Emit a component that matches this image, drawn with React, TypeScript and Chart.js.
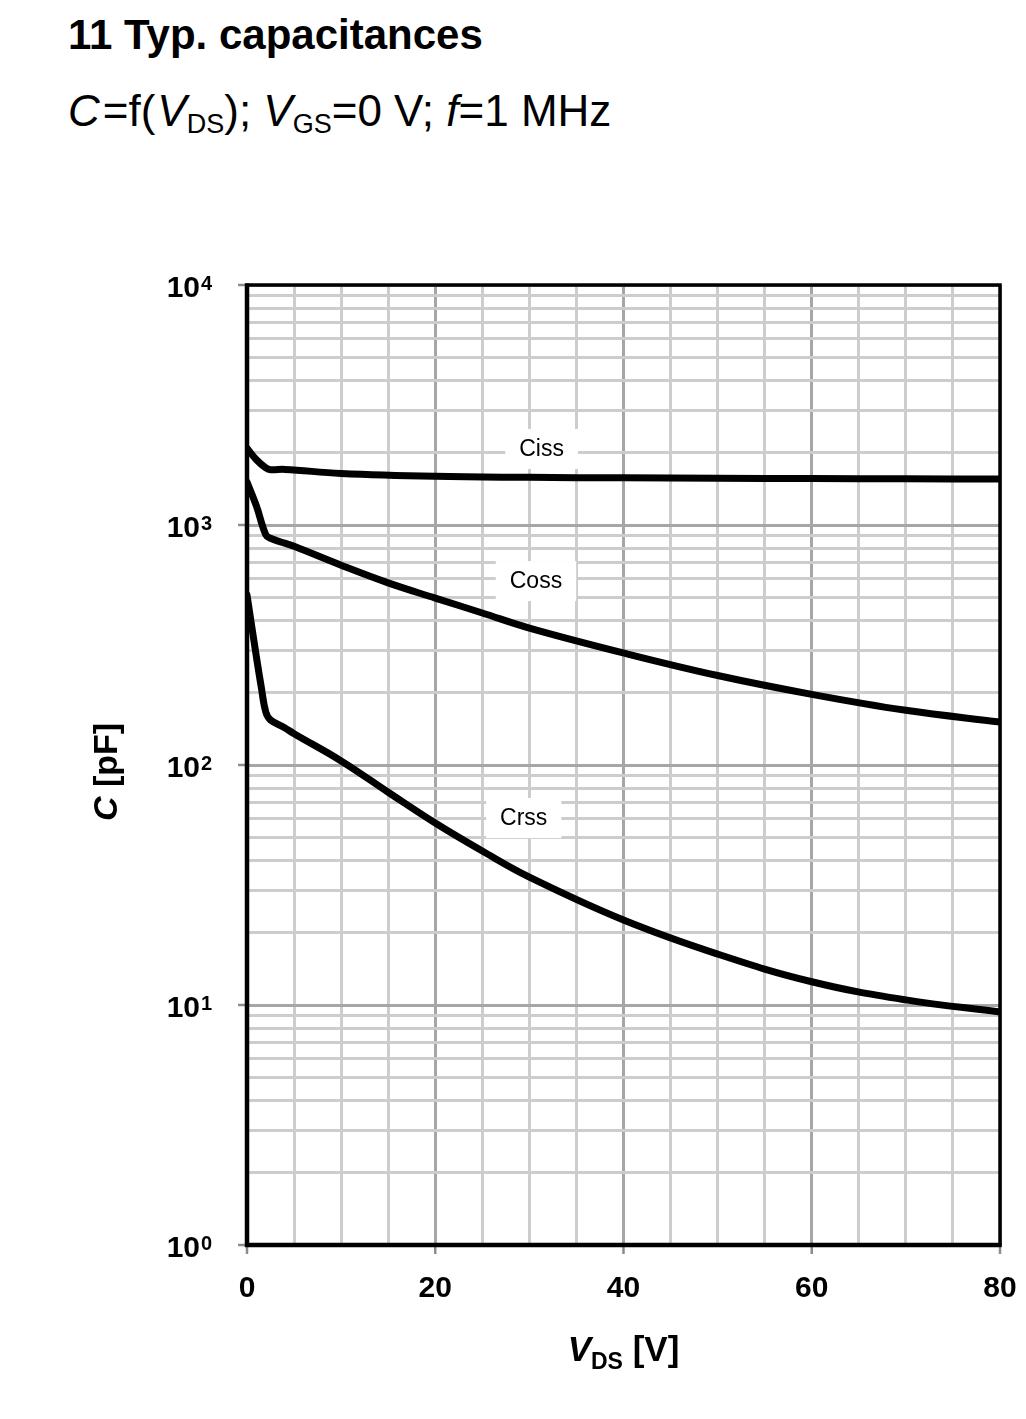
import React, { useEffect, useRef } from "react";
import { Chart, registerables } from "chart.js";

Chart.register(...registerables);

// ---- data ----
const cissV = [0, 1, 2, 2.5, 4, 10, 20, 30, 40, 50, 60, 70, 80];
const cissC = [2090, 1870, 1730, 1700, 1705, 1640, 1595, 1580, 1572, 1566, 1562, 1558, 1555];

const cossV = [0, 1, 2, 2.5, 4, 5, 10, 15, 20, 25, 30, 40, 50, 60, 70, 80];
const cossC = [1510, 1200, 910, 880, 840, 815, 680, 574, 496, 430, 372, 293, 236, 197, 169, 151];

const crssV = [0, 1, 1.5, 2, 2.5, 4, 5, 10, 15, 20, 25, 30, 40, 50, 60, 70, 80];
const crssC = [511, 282, 213, 166, 154, 143, 135, 104, 77, 57.3, 43.8, 34.1, 22.6, 16.3, 12.5, 10.5, 9.35];

const xTickLabels = [0, 20, 40, 60, 80];
const yDecades = [1, 10, 100, 1000, 10000];
const yExponents = ["0", "1", "2", "3", "4"];

const curveNames = ["Ciss", "Coss", "Crss"];
const curveLabelV = [31.3, 30.7, 29.4];
const curveLabelC = [2074, 584, 60.1];

const FONT = "'Liberation Sans', Arial, Helvetica, sans-serif";

function buildYGrid(): number[] {
  const out: number[] = [];
  for (let d = 0; d < yDecades.length - 1; d++) {
    for (let m = 1; m <= 9; m++) out.push(yDecades[d] * m);
  }
  out.push(yDecades[yDecades.length - 1]);
  return out;
}

const decorPlugin = {
  id: "decor",
  beforeDatasetsDraw(chart: any) {
    const { ctx, chartArea } = chart;
    const { left, right, top, bottom } = chartArea;
    const xs = chart.scales.x;
    const ys = chart.scales.y;
    ctx.save();
    // tick marks
    ctx.strokeStyle = "#8c8c8c";
    ctx.lineWidth = 2.5;
    xTickLabels.forEach((v) => {
      const px = xs.getPixelForValue(v);
      ctx.beginPath();
      ctx.moveTo(px, bottom);
      ctx.lineTo(px, bottom + 9);
      ctx.stroke();
    });
    yDecades.forEach((v) => {
      const py = ys.getPixelForValue(v);
      ctx.beginPath();
      ctx.moveTo(left - 9, py);
      ctx.lineTo(left, py);
      ctx.stroke();
    });
    // frame
    ctx.strokeStyle = "#000";
    ctx.lineWidth = 3.5;
    ctx.strokeRect(left, top, right - left, bottom - top);
    ctx.lineWidth = 4.5;
    ctx.beginPath();
    ctx.moveTo(left, top - 1.5);
    ctx.lineTo(left, bottom + 2);
    ctx.stroke();
    ctx.beginPath();
    ctx.moveTo(left - 2, bottom);
    ctx.lineTo(right + 1.5, bottom);
    ctx.stroke();

    // tick labels
    ctx.fillStyle = "#000";
    ctx.textBaseline = "alphabetic";
    ctx.font = `bold 30px ${FONT}`;
    ctx.textAlign = "center";
    xTickLabels.forEach((v) => {
      ctx.fillText(String(v), xs.getPixelForValue(v), 1297);
    });
    yDecades.forEach((v, i) => {
      const py = ys.getPixelForValue(v);
      ctx.font = `bold 30px ${FONT}`;
      ctx.textAlign = "right";
      ctx.fillText("10", 200, py + 12);
      ctx.font = `bold 20px ${FONT}`;
      ctx.textAlign = "left";
      ctx.fillText(yExponents[i], 201, py + 5);
    });

    // axis titles
    ctx.textAlign = "left";
    const cx = (left + right) / 2;
    ctx.font = `italic bold 35px ${FONT}`;
    const wV = ctx.measureText("V").width;
    ctx.font = `bold 23px ${FONT}`;
    const wDS = ctx.measureText("DS").width;
    ctx.font = `bold 35px ${FONT}`;
    const wRest = ctx.measureText(" [V]").width;
    let x0 = cx - (wV + wDS + wRest) / 2;
    ctx.font = `italic bold 35px ${FONT}`;
    ctx.fillText("V", x0, 1361);
    x0 += wV;
    ctx.font = `bold 23px ${FONT}`;
    ctx.fillText("DS", x0, 1369);
    x0 += wDS;
    ctx.font = `bold 35px ${FONT}`;
    ctx.fillText(" [V]", x0, 1361);

    ctx.save();
    ctx.translate(117, 772);
    ctx.rotate(-Math.PI / 2);
    ctx.font = `italic bold 34px ${FONT}`;
    const wC = ctx.measureText("C").width;
    ctx.font = `bold 34px ${FONT}`;
    const wPF = ctx.measureText(" [pF]").width;
    const y0 = -(wC + wPF) / 2;
    ctx.font = `italic bold 34px ${FONT}`;
    ctx.fillText("C", y0, 0);
    ctx.font = `bold 34px ${FONT}`;
    ctx.fillText(" [pF]", y0 + wC, 0);
    ctx.restore();

    ctx.restore();
  },
  afterDatasetsDraw(chart: any) {
    const { ctx } = chart;
    const xs = chart.scales.x;
    const ys = chart.scales.y;
    ctx.save();
    ctx.font = `23px ${FONT}`;
    ctx.textAlign = "center";
    ctx.textBaseline = "middle";
    curveNames.forEach((name, i) => {
      const px = xs.getPixelForValue(curveLabelV[i]);
      const py = ys.getPixelForValue(curveLabelC[i]);
      const w = ctx.measureText(name).width + 28;
      const h = 40;
      ctx.fillStyle = "#fff";
      ctx.fillRect(px - w / 2, py - h / 2, w, h);
      ctx.fillStyle = "#000";
      ctx.fillText(name, px, py + 1);
    });
    ctx.restore();
  },
};

export default function App() {
  const canvasRef = useRef<HTMLCanvasElement | null>(null);

  useEffect(() => {
    const canvas = canvasRef.current;
    if (!canvas) return;
    const mk = (xs: number[], ys: number[]) => xs.map((x, i) => ({ x, y: ys[i] }));
    const yGrid = buildYGrid();
    const lineStyle = {
      borderColor: "#000",
      borderWidth: 7,
      pointRadius: 0,
      fill: false,
      tension: 0.4,
      cubicInterpolationMode: "default" as const,
      borderCapStyle: "round" as const,
      borderJoinStyle: "round" as const,
    };
    const chart = new Chart(canvas, {
      type: "line",
      data: {
        datasets: [
          { label: "Ciss", data: mk(cissV, cissC), ...lineStyle },
          { label: "Coss", data: mk(cossV, cossC), ...lineStyle },
          { label: "Crss", data: mk(crssV, crssC), ...lineStyle },
        ],
      },
      options: {
        animation: false,
        responsive: false,
        maintainAspectRatio: false,
        devicePixelRatio: 1,
        layout: { padding: { left: 247, top: 285, right: 26, bottom: 174 } },
        plugins: { legend: { display: false }, tooltip: { enabled: false } },
        scales: {
          x: {
            type: "linear",
            min: 0,
            max: 80,
            ticks: { stepSize: 5, display: false },
            grid: {
              color: (c: any) => (c.tick && c.tick.value % 20 === 0 ? "#a6a6a6" : "#cdcdcd"),
              lineWidth: 3,
              drawTicks: false,
            },
            border: { display: false },
          },
          y: {
            type: "logarithmic",
            min: 1,
            max: 10000,
            ticks: { display: false },
            afterBuildTicks: (s: any) => {
              s.ticks = yGrid.map((v) => ({ value: v }));
            },
            grid: {
              color: (c: any) => {
                const v = c.tick ? c.tick.value : 0;
                return yDecades.includes(v) ? "#a6a6a6" : "#cdcdcd";
              },
              lineWidth: 3,
              drawTicks: false,
            },
            border: { display: false },
          },
        },
      } as any,
      plugins: [decorPlugin],
    });
    return () => chart.destroy();
  }, []);

  const sub: React.CSSProperties = { fontSize: 27, verticalAlign: -7, lineHeight: 0 };
  return (
    <div style={{ position: "absolute", left: 0, top: 0, width: 1026, height: 1419, background: "#fff", fontFamily: FONT, color: "#000" }}>
      <div style={{ position: "absolute", left: 68, top: 14, fontSize: 42, lineHeight: "42px", fontWeight: "bold", whiteSpace: "nowrap" }}>
        11 Typ. capacitances
      </div>
      <div style={{ position: "absolute", left: 68, top: 89, fontSize: 44, lineHeight: "44px", whiteSpace: "nowrap" }}>
        <i style={{ marginRight: 3 }}>C</i>=f(<i style={{ marginLeft: 2 }}>V</i><span style={sub}>DS</span>); <i>V</i><span style={sub}>GS</span>=0 V; <i>f</i>=1 MHz
      </div>
      <canvas ref={canvasRef} width={1026} height={1419} style={{ position: "absolute", left: 0, top: 0, width: 1026, height: 1419 }} />
    </div>
  );
}
